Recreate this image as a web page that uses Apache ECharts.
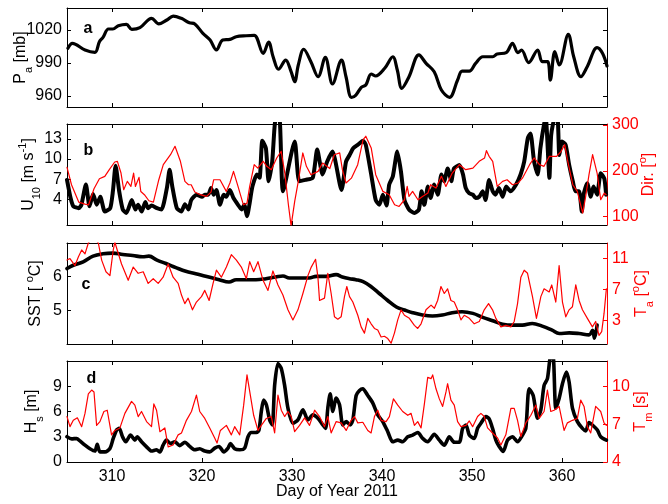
<!DOCTYPE html>
<html>
<head>
<meta charset="utf-8">
<script src="https://cdn.jsdelivr.net/npm/echarts@6/dist/echarts.min.js"></script>
<style>
html, body { margin: 0; padding: 0; background: #fff; }
#chart { width: 668px; height: 504px; }
</style>
</head>
<body>
<div id="chart"></div>
<script>
// ---- Tick values -------------------------------------------------------
const dayTicks = [310, 320, 330, 340, 350, 360];
const paTicks = [960, 990, 1020];
const u10Ticks = [4, 7, 10, 13];
const dirTicks = [100, 200, 300];
const sstTicks = [5, 6];
const taTicks = [3, 7, 11];
const hsTicks = [0, 3, 6, 9];
const tmTicks = [4, 7, 10];

// ---- (a) Air pressure [mb] ---------------------------------------------
const paDay = [305.1,305.6,307.0,308.1,308.6,309.0,309.6,310.1,310.7,311.6,312.2,313.1,314.4,315.2,316.1,316.8,317.7,318.6,319.2,320.1,320.9,321.6,322.3,323.1,323.8,324.9,325.8,326.8,327.4,327.9,328.5,329.3,329.9,330.3,330.7,331.3,332.1,332.9,333.7,334.5,335.5,336.0,336.6,337.1,337.7,338.2,338.8,339.3,340.3,341.2,341.7,342.2,343.0,344.1,344.9,345.8,346.6,347.5,348.4,348.9,349.7,350.4,351.2,352.3,352.8,353.8,354.5,355.1,355.5,356.3,357.3,357.8,358.4,358.7,359.2,359.7,360.7,361.3,362.1,362.8,363.9,364.5,365.0];
const paVal = [1003.4,1007.9,1001.8,999.7,1009.4,1013.3,1020.9,1020.9,1023.9,1025.2,1020.6,1022.1,1030.6,1025.5,1029.1,1032.7,1030.6,1026.6,1025.5,1017.0,1010.9,1001.8,1010.9,1011.5,1013.9,1014.8,1015.2,998.8,1009.1,995.7,984.3,992.7,982.1,973.0,988.2,1002.5,991.2,977.5,995.2,970.9,992.7,977.5,958.8,960.9,967.9,970.0,980.0,978.2,985.2,995.7,983.6,967.0,977.5,997.3,989.7,982.1,965.5,958.8,974.5,982.7,982.7,989.7,995.7,995.7,998.2,999.4,1007.9,999.4,1001.8,990.3,1001.8,991.2,991.2,974.5,1000.3,988.2,1016.1,995.7,977.5,986.6,1003.9,998.8,987.3];

// ---- (b) Wind speed U10 [m/s] and direction [deg] -----------------------
const u10Day = [305.0,305.4,305.7,306.3,306.6,307.1,307.5,307.9,308.3,308.7,309.2,309.8,310.1,310.4,310.8,311.2,311.6,312.2,312.6,312.9,313.3,313.7,314.0,314.4,315.0,315.5,316.1,316.4,316.7,317.2,317.7,318.1,318.5,318.8,319.4,320.0,320.3,320.7,321.0,321.3,321.6,322.0,322.4,322.7,323.1,323.5,324.0,324.4,324.7,325.0,325.3,325.6,326.1,326.4,326.7,327.1,327.4,327.8,328.2,328.6,329.0,330.3,330.8,331.5,332.3,332.8,333.4,333.9,334.5,335.5,336.0,336.4,336.8,337.3,337.9,338.2,338.8,339.3,339.7,340.1,340.5,340.8,341.2,341.7,342.1,342.5,343.0,343.6,344.1,344.4,344.7,345.1,345.4,345.8,346.2,346.6,346.9,347.3,347.7,348.0,348.6,349.0,349.3,349.7,350.1,350.4,350.8,351.2,351.5,351.9,352.3,352.6,353.0,353.4,353.8,354.3,354.9,355.4,355.8,356.2,356.5,356.9,357.3,357.6,358.0,358.2,358.6,358.8,359.2,359.5,359.7,360.0,360.4,360.8,361.2,361.5,361.9,362.2,362.4,362.8,363.2,363.5,363.9,364.3,364.7,364.9];
const u10Val = [6.9,4.2,3.0,2.7,3.2,6.2,3.0,4.8,3.2,4.4,2.2,2.7,5.2,9.0,5.2,2.5,2.0,3.9,2.5,3.2,2.2,3.6,2.7,3.1,2.7,2.5,5.7,8.4,5.9,2.7,2.2,3.3,2.5,3.9,4.7,4.4,4.7,4.7,5.7,4.7,5.4,3.2,4.7,4.4,5.4,4.2,3.2,2.5,3.2,1.5,3.5,5.9,7.7,7.2,12.7,11.6,6.7,9.6,16.0,16.0,5.2,12.6,6.7,6.9,7.2,11.4,7.7,9.6,11.1,5.4,9.6,10.6,11.6,12.1,12.7,12.1,7.7,3.9,3.2,4.7,3.1,6.2,7.4,11.1,8.2,3.9,2.5,2.0,2.5,5.2,3.2,5.9,4.2,6.2,4.7,7.7,6.7,8.6,6.7,8.6,9.1,7.7,5.7,4.9,4.7,4.2,4.4,5.2,3.9,6.9,5.2,4.7,5.7,4.4,5.9,5.2,6.2,7.7,9.6,13.1,13.8,9.6,7.7,11.6,15.1,16.0,7.2,13.6,16.0,16.0,10.6,12.6,12.1,9.1,6.7,5.2,5.2,2.2,4.7,6.4,4.4,5.9,4.7,7.9,7.1,4.7];
const dirDay = [305.0,305.5,306.3,307.0,307.4,308.0,308.6,309.2,309.7,310.3,310.6,311.0,311.3,311.7,312.1,312.4,312.6,313.0,313.2,313.6,314.1,314.6,315.2,315.7,316.5,317.0,317.6,318.1,318.5,318.8,319.2,319.8,320.5,321.0,321.3,322.0,322.7,323.1,323.5,324.0,324.6,325.0,325.3,325.8,326.2,326.8,327.2,327.7,328.3,328.8,329.2,329.6,329.9,330.3,330.7,331.2,331.6,332.1,332.9,333.4,334.2,334.7,335.3,335.6,336.0,336.6,337.3,337.9,338.2,338.8,339.3,340.1,340.8,341.4,341.9,342.5,342.8,343.0,343.4,344.0,344.5,345.1,345.4,346.0,346.6,347.1,347.8,348.6,349.3,350.1,350.8,351.4,351.6,351.9,352.3,352.8,353.4,353.9,354.5,355.1,355.6,356.4,356.9,357.5,358.0,358.6,359.4,359.9,360.3,360.6,361.2,361.7,362.3,362.6,363.0,363.4,363.9,364.3,364.7,364.9];
const dirVal = [207.6,169.7,131.9,127.5,126.0,161.0,182.8,187.9,202.5,219.2,220.7,195.2,158.8,177.0,166.0,195.0,166.0,185.7,155.0,148.0,134.8,131.9,180.6,213.4,235.2,253.4,220.7,177.0,169.7,169.7,153.7,148.0,144.3,153.7,180.6,180.6,155.2,173.4,198.8,166.0,126.0,129.7,166.0,213.4,206.0,220.7,209.8,202.5,228.0,242.5,195.2,126.0,80.0,133.3,177.0,238.9,209.8,191.6,198.8,217.0,205.0,235.0,239.0,202.5,173.4,184.0,213.4,268.0,275.3,249.8,191.6,155.2,148.0,126.0,122.4,137.0,166.0,144.3,155.2,137.0,144.3,151.5,169.7,162.4,188.0,166.0,195.2,213.4,202.5,206.0,220.7,228.0,244.0,231.6,220.7,166.0,177.0,180.6,169.7,173.4,184.0,213.4,228.0,213.4,209.8,231.6,231.6,242.5,257.0,224.3,169.7,155.2,107.9,140.6,191.6,235.2,195.2,137.0,151.5,148.0];

// ---- (c) Sea surface temperature and air temperature [degC] ------------
const sstDay = [305.0,305.7,306.8,307.9,309.0,310.1,311.2,312.3,313.4,314.1,315.0,316.0,317.1,318.2,319.3,320.4,321.9,323.0,323.8,324.9,326.0,327.1,328.2,329.0,329.7,330.8,331.9,332.7,333.8,334.9,335.6,336.4,337.1,337.9,338.8,339.7,340.6,341.6,342.5,343.4,344.5,345.6,346.7,347.8,348.9,350.1,351.2,352.3,353.4,354.5,355.6,356.7,357.8,358.9,359.7,360.8,361.9,363.0,363.4,363.6,363.9];
const sstVal = [6.24,6.34,6.44,6.61,6.68,6.70,6.66,6.63,6.59,6.61,6.49,6.39,6.27,6.16,6.09,6.01,5.91,5.84,5.91,5.91,5.91,5.94,5.99,6.02,5.96,5.96,5.96,6.01,6.01,6.06,5.99,5.94,5.91,5.85,5.70,5.50,5.30,5.10,5.01,4.93,4.86,4.83,4.86,4.93,4.96,4.91,4.79,4.69,4.59,4.56,4.56,4.61,4.53,4.41,4.31,4.33,4.31,4.27,4.41,4.17,4.56];
const taDay = [305.0,305.33,305.89,306.26,306.63,307.0,307.37,307.92,308.48,308.85,309.33,309.77,310.14,310.32,310.58,311.06,311.8,312.36,312.91,313.47,314.02,314.58,315.13,315.68,316.24,316.79,317.35,317.72,318.09,318.46,318.94,319.38,319.94,320.31,320.79,321.23,321.6,322.15,322.71,323.26,323.82,324.37,324.93,325.3,325.74,326.22,326.78,327.33,327.88,328.44,328.99,329.55,330.1,330.66,331.21,331.77,332.14,332.62,332.88,333.06,333.61,333.98,334.35,334.72,335.09,335.46,335.83,336.09,336.39,336.76,337.31,337.68,338.05,338.42,338.79,339.16,339.53,339.9,340.27,340.64,341.01,341.38,341.75,342.12,342.49,343.04,343.6,343.97,344.34,344.89,345.45,345.82,346.18,346.55,346.92,347.29,347.66,348.03,348.4,348.77,349.14,349.7,350.25,350.81,351.36,351.84,352.28,352.65,353.21,353.76,354.32,354.69,355.06,355.43,355.8,356.17,356.72,357.16,357.65,358.01,358.57,358.86,359.31,359.68,360.05,360.42,360.79,361.16,361.53,361.9,362.27,362.82,363.38,363.74,364.11,364.41,364.67,364.93];
const taVal = [10.8,11.0,10.1,11.2,12.1,11.6,13.0,13.8,13.0,10.8,9.3,8.8,12.1,13.1,12.1,10.3,8.2,9.9,9.1,9.3,7.8,8.4,7.8,8.6,10.3,8.6,7.8,6.3,5.2,5.9,4.4,5.4,6.1,6.9,5.6,7.8,9.5,8.6,9.9,11.5,10.8,9.9,8.4,10.6,9.3,10.6,8.2,6.9,9.4,7.6,6.3,4.4,3.1,4.4,6.5,8.8,9.9,10.9,8.6,5.6,5.9,9.1,6.5,3.5,3.2,3.5,6.1,7.4,6.1,5.4,3.7,2.2,1.4,3.3,2.6,2.0,1.8,0.9,1.0,0.7,0.1,1.4,3.1,4.4,3.7,3.3,2.4,2.0,2.6,4.4,5.0,4.6,5.6,7.4,6.5,7.1,5.6,5.4,4.4,3.1,3.7,3.3,2.6,2.9,4.4,5.2,4.4,3.3,2.2,2.4,2.2,2.9,5.2,8.6,9.5,9.1,6.1,3.3,6.1,7.1,6.7,7.6,5.4,10.1,5.4,3.5,4.4,4.8,7.6,5.6,4.4,3.3,2.2,2.9,1.1,1.6,3.9,7.1];

// ---- (d) Significant wave height [m] and mean wave period [s] ----------
const hsDay = [305.0,305.52,306.07,306.44,307.0,307.55,308.1,308.36,308.66,309.22,309.77,310.14,310.51,310.8,311.17,311.54,312.06,312.54,312.8,313.28,313.84,314.39,314.95,315.32,315.68,316.05,316.5,316.98,317.53,318.09,318.64,319.2,319.75,320.31,320.86,321.41,321.9,322.41,322.89,323.15,323.63,324.19,324.74,325.11,325.48,326.04,326.33,326.59,326.85,327.15,327.52,327.81,328.07,328.44,328.81,329.18,329.55,330.1,330.66,331.21,331.77,332.32,332.88,333.43,333.73,333.98,334.24,334.54,334.91,335.28,335.65,336.02,336.46,336.76,337.13,337.5,337.87,338.42,338.98,339.53,340.08,340.64,341.19,341.75,342.3,342.86,343.41,343.97,344.52,345.08,345.81,346.37,346.92,347.48,348.03,348.59,348.96,349.33,349.7,350.25,350.62,350.99,351.55,351.92,352.28,352.65,353.02,353.47,353.95,354.5,355.06,355.61,355.98,356.35,356.8,357.28,357.65,358.01,358.38,358.75,359.01,359.31,359.68,360.05,360.49,360.79,361.16,361.71,362.27,362.64,363.0,363.38,363.93,364.3,364.93];
const hsVal = [3.0,2.75,2.8,2.5,2.0,1.57,1.3,2.1,1.2,1.2,1.6,2.8,3.8,4.0,3.0,2.4,3.2,2.6,3.0,2.4,1.8,1.3,1.45,1.2,2.0,2.6,2.2,2.4,1.95,2.35,1.85,1.45,1.57,1.3,1.2,1.65,1.85,1.2,1.65,2.2,1.57,1.45,1.65,3.0,3.5,3.5,3.8,6.0,7.35,6.8,5.0,4.4,9.1,11.7,11.1,9.1,6.4,4.6,5.0,6.2,5.0,5.6,5.2,4.4,4.0,6.4,8.1,6.0,7.6,6.8,4.4,4.8,4.4,5.0,7.9,8.5,8.7,7.9,7.0,5.6,4.8,3.6,2.4,2.6,2.4,3.0,3.2,3.5,2.8,2.4,3.3,2.6,2.0,3.0,2.35,2.35,4.0,4.4,3.2,2.8,4.0,4.6,5.4,5.1,4.0,2.6,1.85,1.25,2.6,3.0,2.4,3.2,4.0,8.7,7.9,5.2,6.2,9.1,9.9,12.5,12.5,6.4,7.55,9.3,10.7,9.5,6.4,4.8,4.0,3.7,4.7,4.4,3.8,3.0,2.6];
const tmDay = [305.0,305.33,305.7,306.15,306.63,307.0,307.37,307.74,308.0,308.29,308.66,309.1,309.47,309.95,310.32,310.88,311.43,312.17,312.54,312.91,313.28,313.84,314.39,314.65,314.95,315.32,315.87,316.24,316.79,317.35,317.72,318.27,318.83,319.38,319.75,320.31,320.86,321.41,321.67,322.04,322.71,323.26,323.63,324.19,324.63,325.0,325.37,325.74,326.22,326.59,327.15,327.7,328.07,328.44,328.81,329.18,329.55,329.92,330.29,330.84,331.4,331.95,332.51,333.06,333.61,333.98,334.35,334.91,335.46,336.02,336.57,336.94,337.31,337.87,338.42,338.79,339.16,339.53,339.9,340.45,340.82,341.27,341.75,342.3,342.86,343.23,343.6,343.97,344.34,344.71,345.08,345.45,345.63,346.0,346.37,346.74,347.11,347.29,347.66,348.03,348.4,348.77,349.33,349.7,350.07,350.62,350.99,351.36,351.73,352.28,352.84,353.21,353.76,354.32,354.69,355.06,355.43,355.98,356.54,357.09,357.46,358.01,358.38,358.75,359.12,359.68,360.23,360.6,361.16,361.71,362.08,362.45,362.82,363.19,363.74,364.3,364.67,364.93];
const tmVal = [7.6,6.8,7.3,7.5,6.8,7.85,9.4,9.7,9.55,6.9,7.2,8.0,8.1,6.15,6.5,6.7,7.85,8.8,8.5,7.6,8.0,7.2,6.8,8.6,8.1,6.4,6.7,5.2,5.35,6.15,6.3,7.3,8.0,9.3,8.0,7.45,6.7,5.9,5.5,6.5,6.9,6.15,6.8,6.15,8.5,10.9,9.3,7.7,6.5,6.9,7.45,7.6,6.3,9.3,8.1,7.6,8.0,7.6,6.4,6.9,7.5,6.9,8.1,7.6,6.8,7.6,6.3,7.2,7.1,6.5,7.3,7.6,7.1,7.15,6.5,6.3,7.6,8.1,7.3,7.2,7.6,9.0,8.5,8.0,7.7,7.85,6.9,7.2,6.7,8.6,10.7,10.6,10.9,9.8,9.0,8.4,9.55,10.2,8.9,8.5,7.2,6.8,6.9,7.25,6.8,7.6,7.85,7.6,6.7,6.3,5.9,5.35,6.15,8.25,8.25,7.3,6.0,7.1,7.7,8.5,7.45,8.0,9.7,8.0,8.1,8.4,6.5,7.1,7.3,7.45,8.9,8.4,6.8,6.3,8.4,8.0,7.1,6.9];

// ---- Styling -----------------------------------------------------------
const BLACK = '#000000';
const RED = '#ff0000';
const FONT = '"Liberation Sans", Arial, Helvetica, sans-serif';
const FS = 16;

function pairs(xs, ys) { return xs.map((x, i) => [x, ys[i]]); }
const plain = v => String(v);

function richFor(color) {
  return {
    n:   { fontSize: FS, fontFamily: FONT, color: color, lineHeight: 26 },
    sub: { fontSize: 11, fontFamily: FONT, color: color, verticalAlign: 'bottom', lineHeight: 12 },
    sup: { fontSize: 11, fontFamily: FONT, color: color, verticalAlign: 'top', padding: [1, 0, 0, 0], lineHeight: 12 }
  };
}

// four stacked panels sharing the day-of-year axis
const panels = [
  { top: 8,   height: 99 },
  { top: 124, height: 101 },
  { top: 243, height: 101 },
  { top: 361, height: 101 }
];
const grid = panels.map(p => ({ left: 67, width: 540, top: p.top, height: p.height, show: false, outerBoundsMode: 'none' }));

const xAxis = [];
panels.forEach((p, i) => {
  const last = i === panels.length - 1;
  xAxis.push({
    gridIndex: i, type: 'value', min: 305, max: 365, position: 'bottom',
    axisLine: { show: true, onZero: false, lineStyle: { color: BLACK, width: 1 } },
    axisTick: { show: true, inside: true, length: 4, customValues: dayTicks, lineStyle: { color: BLACK } },
    axisLabel: { show: last, customValues: dayTicks, formatter: plain, color: BLACK, fontSize: FS, fontFamily: FONT, margin: 7 },
    splitLine: { show: false },
    name: last ? 'Day of Year 2011' : '',
    nameLocation: 'middle', nameGap: 22, nameMoveOverlap: false,
    nameTextStyle: { color: BLACK, fontSize: FS, fontFamily: FONT, lineHeight: 16 }
  });
  xAxis.push({
    gridIndex: i, type: 'value', min: 305, max: 365, position: 'top',
    axisLine: { show: true, onZero: false, lineStyle: { color: BLACK, width: 1 } },
    axisTick: { show: true, inside: true, length: 4, customValues: dayTicks, lineStyle: { color: BLACK } },
    axisLabel: { show: false },
    splitLine: { show: false }
  });
});

function leftAxis(i, min, max, ticks, name, gap) {
  return {
    gridIndex: i, type: 'value', min: min, max: max, position: 'left',
    axisLine: { show: true, onZero: false, lineStyle: { color: BLACK, width: 1 } },
    axisTick: { show: true, inside: true, length: 4, customValues: ticks, lineStyle: { color: BLACK } },
    axisLabel: { show: true, customValues: ticks, formatter: plain, color: BLACK, fontSize: FS, fontFamily: FONT, margin: 5 },
    splitLine: { show: false },
    name: name, nameLocation: 'middle', nameRotate: 90, nameGap: gap, nameMoveOverlap: false,
    nameTextStyle: { color: BLACK, rich: richFor(BLACK) }
  };
}
function rightAxis(i, min, max, ticks, name, gap, color, labels) {
  return {
    gridIndex: i, type: 'value', min: min, max: max, position: 'right',
    axisLine: { show: true, onZero: false, lineStyle: { color: color, width: 1 } },
    axisTick: { show: true, inside: true, length: 4, customValues: ticks, lineStyle: { color: color } },
    axisLabel: { show: labels, customValues: ticks, formatter: plain, color: color, fontSize: FS, fontFamily: FONT, margin: 5 },
    splitLine: { show: false },
    name: name, nameLocation: 'middle', nameRotate: 90, nameGap: gap, nameMoveOverlap: false,
    nameTextStyle: { color: color, rich: richFor(color) }
  };
}

const yAxis = [
  leftAxis(0, 950, 1040, paTicks, '{n|P}{sub|a}{n| [mb]}', 33),
  rightAxis(0, 950, 1040, paTicks, '', 0, BLACK, false),
  leftAxis(1, 0.2, 15.2, u10Ticks, '{n|U}{sub|10}{n| [m s}{sup|-1}{n|]}', 25),
  rightAxis(1, 82, 302, dirTicks, '{n|Dir. [}{sup|o}{n|]}', 29, RED, true),
  leftAxis(2, 4, 7, sstTicks, '{n|SST [ }{sup|o}{n|C]}', 18),
  rightAxis(2, 0, 13, taTicks, '{n|T}{sub|a}{n| [}{sup|o}{n|C]}', 22, RED, true),
  leftAxis(3, 0, 12, hsTicks, '{n|H}{sub|s}{n| [m]}', 22),
  rightAxis(3, 4, 12, tmTicks, '{n|T}{sub|m}{n| [s]}', 21, RED, true)
];

function line(data, xi, yi, color, width, smooth) {
  return {
    type: 'line', data: data, xAxisIndex: xi, yAxisIndex: yi,
    showSymbol: false, symbol: 'none', smooth: smooth, clip: true,
    lineStyle: { color: color, width: width, cap: 'round', join: 'round' },
    emphasis: { disabled: true }, silent: true
  };
}

const series = [
  line(pairs(paDay, paVal), 0, 0, BLACK, 3.2, 0.35),
  line(pairs(u10Day, u10Val), 2, 2, BLACK, 4, 0.2),
  line(pairs(dirDay, dirVal), 2, 3, RED, 1.2, false),
  line(pairs(sstDay, sstVal), 4, 4, BLACK, 3.6, 0.4),
  line(pairs(taDay, taVal), 4, 5, RED, 1.2, false),
  line(pairs(hsDay, hsVal), 6, 6, BLACK, 3.6, 0.25),
  line(pairs(tmDay, tmVal), 6, 7, RED, 1.2, false)
];

// panel letters
const letters = [['a', 88, 29], ['b', 88.5, 151], ['c', 86, 285], ['d', 91.5, 379]];
const graphic = letters.map(([t, x, y]) => ({
  type: 'text', x: x, y: y, silent: true,
  style: { text: t, fill: BLACK, font: 'bold 16px ' + FONT, align: 'center', verticalAlign: 'middle' }
}));

const chart = echarts.init(document.getElementById('chart'), null, { renderer: 'canvas' });
chart.setOption({
  animation: false,
  backgroundColor: '#ffffff',
  textStyle: { fontFamily: FONT },
  grid: grid,
  xAxis: xAxis,
  yAxis: yAxis,
  series: series,
  graphic: graphic
});
</script>
</body>
</html>
